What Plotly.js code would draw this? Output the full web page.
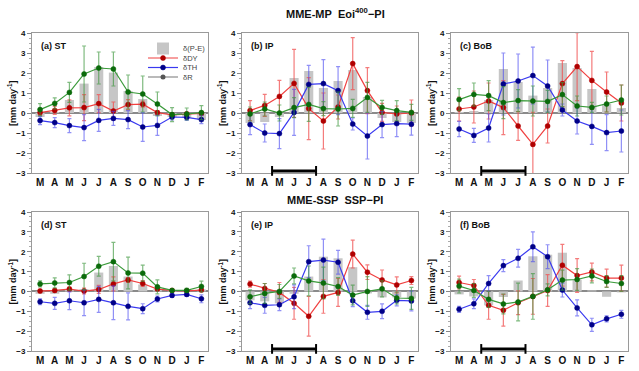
<!DOCTYPE html>
<html><head><meta charset="utf-8">
<script src="https://cdn.plot.ly/plotly-3.0.1.min.js"></script>
<style>html,body{margin:0;padding:0;background:#fff}#chart{width:639px;height:371px}</style>
</head><body><div id="chart"></div>
<script>
const months = ['M','A','M','J','J','A','S','O','N','D','J','F'];
const panelLabels = ['(a) ST','(b) IP','(c) BoB','(d) ST','(e) IP','(f) BoB'];
const rowTitles = ['MME-MP\u00a0\u00a0Eoi<sup>400</sup>\u2212PI', 'MME-SSP\u00a0\u00a0SSP\u2212PI'];
const seriesNames = ['\u03b4(P-E)', '\u03b4DY', '\u03b4TH', '\u03b4R'];

// (a) ST, MME-MP
const peA = [-0.2, 0.05, 0.65, 1.47, 2.3, 2.02, 1.1, 0.7, -0.15, -0.2, -0.25, -0.35];
const dyA = [0.02, 0.13, 0.26, 0.27, 0.47, 0.1, 0.42, 0.44, 0.02, -0.1, -0.05, -0.02];
const dyErrA = [0.15, 0.2, 0.4, 0.65, 0.45, 0.45, 0.25, 0.15, 0.1, 0.1, 0.1, 0.1];
const thA = [-0.38, -0.48, -0.63, -0.73, -0.37, -0.27, -0.33, -0.7, -0.62, -0.2, -0.22, -0.33];
const thErrA = [0.2, 0.25, 0.35, 0.65, 0.55, 0.35, 0.45, 0.72, 0.5, 0.15, 0.15, 0.2];
const rA = [0.17, 0.48, 1.03, 1.95, 2.25, 2.2, 1.05, 0.95, 0.45, -0.08, -0.05, 0.02];
const rErrA = [0.3, 0.28, 0.5, 1.4, 0.8, 0.85, 0.85, 0.9, 0.6, 0.35, 0.3, 0.35];

// (b) IP, MME-MP
const peB = [-0.5, -0.45, -0.2, 1.75, 2.1, 1.25, 1.6, 2.15, 0.8, -0.25, -0.45, -0.5];
const dyB = [0.12, 0.38, 0.83, 1.48, 0.22, -0.4, 0.3, 2.47, 1.12, 0.03, -0.05, 0.0];
const dyErrB = [0.5, 0.55, 0.8, 1.7, 1.55, 1.4, 0.6, 1.3, 1.15, 0.45, 0.4, 0.65];
const thB = [-0.58, -1.0, -1.03, 0.03, 1.43, 1.47, 1.12, -0.55, -1.15, -0.58, -0.53, -0.56];
const thErrB = [0.5, 0.45, 0.75, 1.15, 0.95, 1.2, 1.2, 0.3, 1.15, 0.65, 0.65, 0.55];
const rB = [-0.05, 0.2, 0.0, 0.27, 0.43, 0.22, 0.2, 0.23, 0.78, 0.28, 0.12, 0.03];
const rErrB = [0.35, 0.35, 0.4, 0.5, 0.85, 0.35, 0.85, 0.45, 0.75, 0.35, 0.5, 0.4];

// (c) BoB, MME-MP
const peC = [0.05, 0.1, 0.65, 2.2, 1.55, 0.87, 1.25, 2.5, 2.25, 1.2, 0.45, 0.25];
const dyC = [0.2, 0.3, 0.6, 0.27, -0.65, -1.57, -0.65, 1.47, 2.32, 1.63, 1.05, 0.5];
const dyErrC = [0.6, 0.8, 0.9, 1.35, 0.72, 1.6, 0.85, 1.15, 1.7, 1.45, 1.0, 0.9];
const thC = [-0.8, -1.12, -0.75, 1.45, 1.6, 1.87, 1.35, 0.15, -0.4, -0.67, -0.98, -0.9];
const thErrC = [0.38, 0.35, 0.7, 1.55, 1.35, 1.42, 1.3, 0.3, 0.65, 0.9, 0.9, 1.05];
const rC = [0.67, 0.93, 0.87, 0.52, 0.62, 0.6, 0.58, 0.92, 0.35, 0.28, 0.45, 0.65];
const rErrC = [0.55, 0.57, 0.75, 0.8, 0.55, 0.75, 0.55, 0.6, 0.5, 0.25, 0.4, 0.75];

// (d) ST, MME-SSP
const peD = [-0.12, -0.12, 0.12, 0.12, 0.95, 1.28, 0.75, 0.35, 0.1, 0.05, 0.0, 0.1];
const dyD = [0.02, 0.05, 0.12, 0.02, 0.1, 0.38, 0.58, 0.4, 0.12, 0.05, 0.03, 0.07];
const dyErrD = [0.08, 0.08, 0.1, 0.15, 0.2, 0.35, 0.12, 0.15, 0.07, 0.07, 0.05, 0.07];
const thD = [-0.52, -0.6, -0.47, -0.57, -0.4, -0.57, -0.75, -0.87, -0.38, -0.2, -0.15, -0.37];
const thErrD = [0.15, 0.3, 0.45, 0.65, 0.65, 0.85, 0.68, 0.25, 0.15, 0.1, 0.1, 0.2];
const rD = [0.38, 0.43, 0.45, 0.75, 1.27, 1.5, 0.93, 0.92, 0.23, 0.05, 0.05, 0.25];
const rErrD = [0.15, 0.25, 0.38, 0.67, 0.5, 0.97, 0.8, 0.4, 0.35, 0.08, 0.1, 0.27];

// (e) IP, MME-SSP
const peE = [-0.45, -0.5, -0.6, -0.12, 0.75, 1.75, 1.67, 1.22, -0.1, -0.3, -0.3, -0.35];
const dyE = [0.37, 0.15, -0.05, -0.6, -1.25, -0.25, -0.05, 1.88, 0.97, 0.58, 0.33, 0.55];
const dyErrE = [0.15, 0.25, 0.5, 0.8, 1.0, 0.85, 0.7, 0.7, 0.37, 0.5, 0.4, 0.2];
const thE = [-0.57, -0.7, -0.67, -0.27, 1.5, 1.58, 1.47, -0.47, -1.05, -1.0, -0.45, -0.48];
const thErrE = [0.3, 0.4, 0.3, 0.6, 0.8, 1.05, 0.6, 0.3, 0.35, 0.37, 0.28, 0.5];
const rE = [-0.27, -0.1, 0.0, 0.78, 0.53, 0.42, 0.25, -0.18, 0.0, 0.13, -0.33, -0.35];
const rErrE = [0.35, 0.5, 0.35, 0.4, 0.75, 0.8, 0.45, 0.5, 0.75, 0.4, 0.3, 0.55];

// (f) BoB, MME-SSP
const peF = [-0.15, -0.25, -0.7, -0.28, 0.55, 1.77, 1.85, 1.95, 0.6, 0.05, -0.27, -0.05];
const dyF = [0.45, 0.3, -0.7, -0.95, -0.57, -0.25, 0.05, 1.32, 0.8, 0.98, 0.67, 0.67];
const dyErrF = [0.32, 0.3, 0.7, 0.8, 0.6, 0.9, 0.8, 1.05, 0.85, 0.45, 0.45, 0.65];
const thF = [-0.9, -0.62, 0.4, 1.3, 1.67, 2.25, 1.75, 0.07, -0.83, -1.68, -1.38, -1.15];
const thErrF = [0.15, 0.25, 0.4, 0.3, 0.45, 0.75, 0.6, 0.35, 0.4, 0.33, 0.15, 0.2];
const rF = [0.27, 0.05, -0.4, -0.63, -0.53, -0.25, 0.08, 0.57, 0.6, 0.78, 0.5, 0.4];
const rErrF = [0.35, 0.35, 0.4, 0.5, 0.95, 1.15, 0.3, 0.5, 0.55, 0.35, 0.3, 0.4];

// Marker of the monsoon-onset period (x from/to, in month index units)
const periodBar = [1.5, 4.5];
const periodPanels = [1, 2, 4, 5];

const panels = [
  {pe: peA, dy: dyA, dyE: dyErrA, th: thA, thE: thErrA, r: rA, rE: rErrA},
  {pe: peB, dy: dyB, dyE: dyErrB, th: thB, thE: thErrB, r: rB, rE: rErrB},
  {pe: peC, dy: dyC, dyE: dyErrC, th: thC, thE: thErrC, r: rC, rE: rErrC},
  {pe: peD, dy: dyD, dyE: dyErrD, th: thD, thE: thErrD, r: rD, rE: rErrD},
  {pe: peE, dy: dyE, dyE: dyErrE, th: thE, thE: thErrE, r: rE, rE: rErrE},
  {pe: peF, dy: dyF, dyE: dyErrF, th: thF, thE: thErrF, r: rF, rE: rErrF}
];

const W = 639, H = 371;
const xPix = [[32, 208], [242, 418], [451, 628]];
const yPix = [[33, 173], [212, 351]];
const xIdx = months.map((m, i) => i);

const style = {
  bar: '#c6c6c6',
  dy: {line: '#f04040', mk: '#b00000', err: 'rgba(240,80,80,0.75)'},
  th: {line: '#3a3af0', mk: '#000088', err: 'rgba(70,70,240,0.6)'},
  r:  {line: '#3a9a3a', mk: '#0b6b0b', err: 'rgba(60,150,60,0.65)'}
};

const data = [];
const layout = {
  width: W, height: H,
  margin: {l: 0, r: 0, t: 0, b: 0},
  paper_bgcolor: '#fff', plot_bgcolor: '#fff',
  font: {family: 'Liberation Sans, Arial, sans-serif', color: '#111'},
  barmode: 'overlay',
  showlegend: true,
  annotations: [], shapes: []
};

function lineTrace(x, y, err, st, name, xa, ya, legend, showleg) {
  return {
    type: 'scatter', mode: 'lines+markers', x: x, y: y, name: name,
    xaxis: xa, yaxis: ya, legend: legend, showlegend: showleg,
    line: {color: st.line, width: 1.2},
    marker: {color: st.mk, size: 5, line: {color: st.mk, width: 0.5}},
    error_y: {type: 'data', array: err, visible: true, color: st.err, thickness: 1.2, width: 2}
  };
}

panels.forEach((p, k) => {
  const row = Math.floor(k / 3), col = k % 3;
  const sfx = k === 0 ? '' : String(k + 1);
  const xa = 'x' + sfx, ya = 'y' + sfx;
  const first = k === 0;
  data.push({type: 'bar', x: xIdx, y: p.pe, name: seriesNames[0], xaxis: xa, yaxis: ya,
    width: 0.62, marker: {color: style.bar, line: {width: 0}},
    legend: 'legend', showlegend: first});
  data.push(lineTrace(xIdx, p.dy, p.dyE, style.dy, seriesNames[1], xa, ya, 'legend2', first));
  data.push(lineTrace(xIdx, p.th, p.thE, style.th, seriesNames[2], xa, ya, 'legend3', first));
  data.push(lineTrace(xIdx, p.r, p.rE, style.r, seriesNames[3], xa, ya, 'legend4', false));

  layout['xaxis' + sfx] = {
    domain: [xPix[col][0] / W, xPix[col][1] / W], anchor: ya,
    range: [-0.55, 11.45], tickvals: xIdx, ticktext: months,
    tickfont: {size: 10, family: 'Liberation Sans, Arial', weight: 'bold', color: '#111'},
    showgrid: false, zeroline: false, showline: true, mirror: true,
    linecolor: '#9a9a9a', linewidth: 1, ticks: '', fixedrange: true
  };
  layout['yaxis' + sfx] = {
    domain: [1 - yPix[row][1] / H, 1 - yPix[row][0] / H], anchor: xa,
    range: [-3, 4], dtick: 1, tick0: 0,
    tickfont: {size: 8, family: 'Liberation Sans, Arial', weight: 'bold', color: '#111'},
    ticks: 'outside', ticklen: 4, tickcolor: '#888', tickwidth: 1,
    minor: {dtick: 0.25, ticks: 'outside', ticklen: 2, tickcolor: '#aaa', showgrid: false},
    showgrid: false, zeroline: true, zerolinecolor: '#8a8a8a', zerolinewidth: 2,
    showline: true, mirror: true, linecolor: '#9a9a9a', linewidth: 1, fixedrange: true
  };
  layout.annotations.push({
    text: '<b>' + panelLabels[k] + '</b>', xref: xa + ' domain', yref: ya + ' domain',
    x: 0.04, y: 0.955, xanchor: 'left', yanchor: 'top', showarrow: false,
    font: {size: 9, color: '#111'}
  });
  layout.annotations.push({
    text: '<b>[mm day<sup>-1</sup>]</b>', xref: 'paper', yref: ya + ' domain',
    x: (xPix[col][0] - 20) / W, y: 0.5, textangle: -90, showarrow: false,
    xanchor: 'center', yanchor: 'middle', font: {size: 9, color: '#111'}
  });
  if (periodPanels.includes(k)) {
    const yb = 0.015;
    layout.shapes.push({type: 'line', xref: xa, yref: ya + ' domain',
      x0: periodBar[0], x1: periodBar[1], y0: yb, y1: yb, line: {color: '#000', width: 3}});
    periodBar.forEach(xv => layout.shapes.push({type: 'line', xref: xa, yref: ya + ' domain',
      x0: xv, x1: xv, y0: yb - 0.035, y1: yb + 0.035, line: {color: '#000', width: 2}}));
  }
});

// legend-only entry for δR (drawn grey in the key)
data.push({type: 'scatter', mode: 'lines+markers', x: [null], y: [null], name: seriesNames[3],
  xaxis: 'x', yaxis: 'y', legend: 'legend4', showlegend: true,
  line: {color: '#777', width: 1.2}, marker: {color: '#555', size: 5}});

rowTitles.forEach((t, i) => {
  layout.annotations.push({
    text: '<b>' + t + '</b>', xref: 'paper', yref: 'paper',
    x: 335 / W, y: 1 - (i === 0 ? 13 : 200) / H, showarrow: false,
    xanchor: 'center', yanchor: 'middle', font: {size: 11, color: '#111'}
  });
});

const legY = [48.5, 58, 67.5, 77];
['legend', 'legend2', 'legend3', 'legend4'].forEach((lg, i) => {
  layout[lg] = {
    x: 143 / W, y: 1 - legY[i] / H, xanchor: 'left', yanchor: 'middle',
    bgcolor: 'rgba(0,0,0,0)', borderwidth: 0, itemwidth: 30,
    font: {size: 7.5, color: '#444'}, itemclick: false, itemdoubleclick: false
  };
});

Plotly.newPlot('chart', data, layout, {displayModeBar: false, staticPlot: true});
</script></body></html>
